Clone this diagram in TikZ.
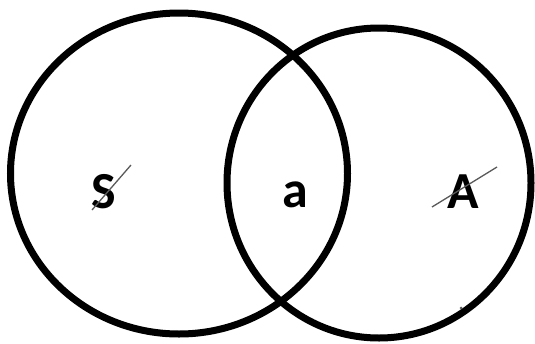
\documentclass[tikz,border=0pt]{standalone}
\usepackage{fontspec}
\setmainfont{Carlito}
\usepackage{tikz}
\usepackage{xcolor}
\usetikzlibrary{positioning}
\definecolor{cStrike}{RGB}{90,90,90}
\tikzset{
	setring/.style ={draw=black, line width=7pt},
	setlabel/.style={inner sep=0pt, anchor=base, font=\fontsize{52}{52}\selectfont\bfseries},
	strike/.style  ={draw=cStrike, line width=1.3pt},
}

\begin{document}
\begin{tikzpicture}[x=1pt, y=-1pt]
	\useasboundingbox (0,0) rectangle (535,343);
	\clip (0,0) rectangle (535,343);
	% the two sets
	\draw[setring] (179,173.5) ellipse [x radius=168.5, y radius=160.5];
	\draw[setring] (379,183) ellipse [x radius=152, y radius=155];
	% labels
	\node[setlabel] (lblS) at (104,208) {S};
	\node[setlabel] (lbla) at (295,207) {a};
	\node[setlabel] (lblA) at (463,208) {A};
	% strike-through marks
	\draw[strike] (92,210) -- (131,165);
	\draw[strike] (432,207) -- (497,167);
	\fill[cStrike] (461,308) circle (1.5);
\end{tikzpicture}
\end{document}
